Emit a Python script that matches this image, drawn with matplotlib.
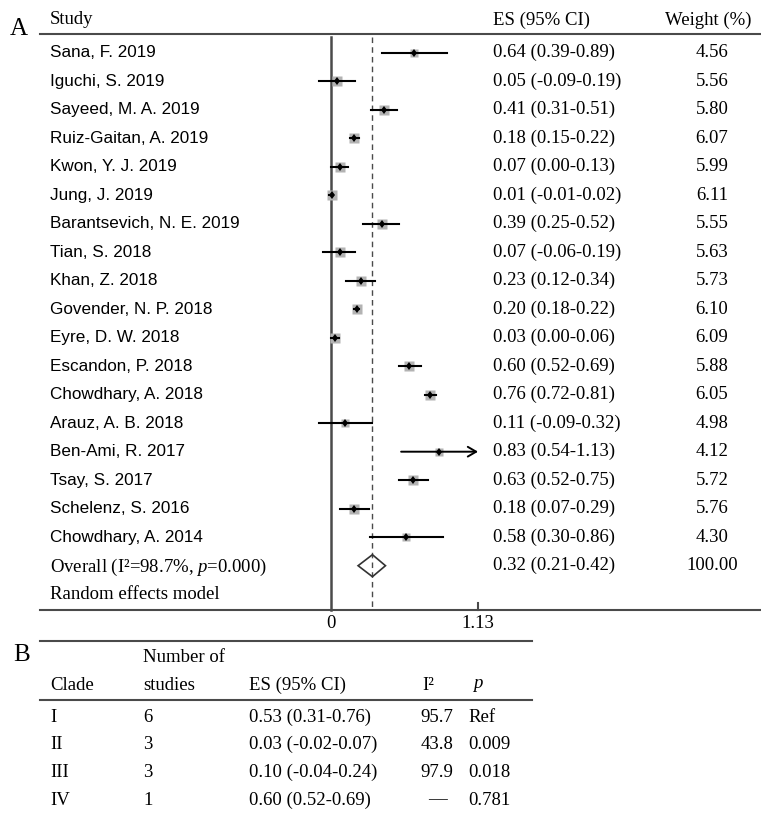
import numpy as np
import matplotlib.pyplot as plt
from matplotlib.patches import Polygon

plt.rcParams['mathtext.fontset'] = 'custom'
plt.rcParams['mathtext.rm'] = 'Liberation Serif'
plt.rcParams['mathtext.it'] = 'Liberation Serif:italic'

# panel A data
studies = ["Sana, F. 2019", "Iguchi, S. 2019", "Sayeed, M. A. 2019", "Ruiz-Gaitan, A. 2019",
           "Kwon, Y. J. 2019", "Jung, J. 2019", "Barantsevich, N. E. 2019", "Tian, S. 2018",
           "Khan, Z. 2018", "Govender, N. P. 2018", "Eyre, D. W. 2018", "Escandon, P. 2018",
           "Chowdhary, A. 2018", "Arauz, A. B. 2018", "Ben-Ami, R. 2017", "Tsay, S. 2017",
           "Schelenz, S. 2016", "Chowdhary, A. 2014"]
es = [0.64, 0.05, 0.41, 0.18, 0.07, 0.01, 0.39, 0.07, 0.23, 0.20, 0.03, 0.60, 0.76, 0.11, 0.83, 0.63, 0.18, 0.58]
lo = [0.39, -0.09, 0.31, 0.15, 0.00, -0.01, 0.25, -0.06, 0.12, 0.18, 0.00, 0.52, 0.72, -0.09, 0.54, 0.52, 0.07, 0.30]
hi = [0.89, 0.19, 0.51, 0.22, 0.13, 0.02, 0.52, 0.19, 0.34, 0.22, 0.06, 0.69, 0.81, 0.32, 1.13, 0.75, 0.29, 0.86]
weight = [4.56, 5.56, 5.80, 6.07, 5.99, 6.11, 5.55, 5.63, 5.73, 6.10, 6.09, 5.88, 6.05, 4.98, 4.12, 5.72, 5.76, 4.30]
overall = (0.32, 0.21, 0.42)
x_max = 1.13

# panel B data
clades = ["I", "II", "III", "IV"]
n_studies = [6, 3, 3, 1]
clade_es = ["0.53 (0.31-0.76)", "0.03 (-0.02-0.07)", "0.10 (-0.04-0.24)", "0.60 (0.52-0.69)"]
clade_i2 = ["95.7", "43.8", "97.9", "\u2014"]
clade_p = ["Ref", "0.009", "0.018", "0.781"]

W, H = 761, 815
x0, ppu = 330.7, 130.4      # pixel of x=0, pixels per unit
row0, rowh = 52.7, 28.5     # pixel of first row, row height

fig = plt.figure(figsize=(W / 100, H / 100), dpi=100)
ax = fig.add_axes([0, 0, 1, 1])
ax.axis('off')
ax.set_xlim(-x0 / ppu, (W - x0) / ppu)
ax.set_ylim((H - row0) / rowh, -row0 / rowh)


def ry(py):
    return (py - row0) / rowh


def fx(px):
    return px / W


tr = ax.get_yaxis_transform()
serif = dict(family='Liberation Serif', fontsize=13.5, va='center', transform=tr)
sans = dict(family='Liberation Sans', fontsize=12.3, va='center', transform=tr)
gray = '#4a4a4a'

# header
ax.text(fx(10), ry(29), "A", family='Liberation Serif', fontsize=18, va='center', transform=tr)
ax.text(fx(50), ry(20), "Study", **serif)
ax.text(fx(493), ry(20), "ES (95% CI)", **serif)
ax.text(fx(708), ry(20), "Weight (%)", ha='center', **serif)
ax.plot([fx(40), 1], [ry(33.5)] * 2, color=gray, lw=1.5, transform=tr)

# study rows
for i, name in enumerate(studies):
    ax.text(fx(50), i, name, **sans)
    ax.text(fx(493), i, f"{es[i]:.2f} ({lo[i]:.2f}-{hi[i]:.2f})", **serif)
    ax.text(fx(712), i, f"{weight[i]:.2f}", ha='center', **serif)
    side = 3.9 * np.sqrt(weight[i]) * 0.72
    ax.plot(es[i], i, marker='s', ms=side, color='#b3b3b3', mec='none', zorder=2)
    if hi[i] >= x_max:
        ax.annotate("", xy=(x_max, i), xytext=(lo[i], i),
                    arrowprops=dict(arrowstyle='->,head_length=0.6,head_width=0.35',
                                    color='black', lw=1.4, shrinkA=0, shrinkB=0), zorder=3)
    else:
        ax.plot([lo[i], hi[i]], [i, i], color='black', lw=1.5, zorder=3)
    ax.plot(es[i], i, marker='d', ms=4.5, color='black', mew=0, zorder=4)

# overall
n = len(studies)
h = 11 / rowh
ax.add_patch(Polygon([(overall[1], n), (overall[0], n - h), (overall[2], n), (overall[0], n + h)],
                     closed=True, facecolor='none', edgecolor='#333333', lw=1.2, zorder=3))
ax.text(fx(50), n + 0.05, "Overall (I\u00b2=98.7%, $\\mathit{p}$=0.000)", **serif)
ax.text(fx(493), n, f"{overall[0]:.2f} ({overall[1]:.2f}-{overall[2]:.2f})", **serif)
ax.text(fx(712), n, "100.00", ha='center', **serif)
ax.text(fx(50), n + 1, "Random effects model", **serif)

# reference lines
ax.plot([0, 0], [ry(37), ry(610)], color=gray, lw=1.8, zorder=1)
ax.plot([overall[0]] * 2, [ry(37), ry(610)], color=gray, lw=1.0, dashes=(4, 3), zorder=1)

# bottom axis
ax.plot([fx(40), 1], [ry(610)] * 2, color=gray, lw=1.5, transform=tr)
ax.plot([x_max, x_max], [ry(603), ry(610)], color=gray, lw=1.5)
for v, lab in [(0, "0"), (x_max, "1.13")]:
    ax.text(v, ry(624), lab, ha='center', va='center', family='Liberation Serif', fontsize=13.5)

# panel B table
ax.text(fx(13), ry(655), "B", family='Liberation Serif', fontsize=18, va='center', transform=tr)
ax.plot([fx(40), fx(532)], [ry(641)] * 2, color=gray, lw=1.5, transform=tr)
ax.text(fx(143), ry(657), "Number of", **serif)
hy = ry(685)
ax.text(fx(50), hy, "Clade", **serif)
ax.text(fx(143), hy, "studies", **serif)
ax.text(fx(249), hy, "ES (95% CI)", **serif)
ax.text(fx(422), hy, "I\u00b2", **serif)
ax.text(fx(472), hy, "$\\mathit{p}$", **serif)
ax.plot([fx(40), fx(532)], [ry(700)] * 2, color=gray, lw=1.5, transform=tr)
for k, c in enumerate(clades):
    y = ry(717 + 27.7 * k)
    ax.text(fx(50), y, c, **serif)
    ax.text(fx(143), y, str(n_studies[k]), **serif)
    ax.text(fx(249), y, clade_es[k], **serif)
    ax.text(fx(437), y, clade_i2[k], ha='center', **serif)
    ax.text(fx(468), y, clade_p[k], **serif)

fig.savefig('out.png', dpi=100)
